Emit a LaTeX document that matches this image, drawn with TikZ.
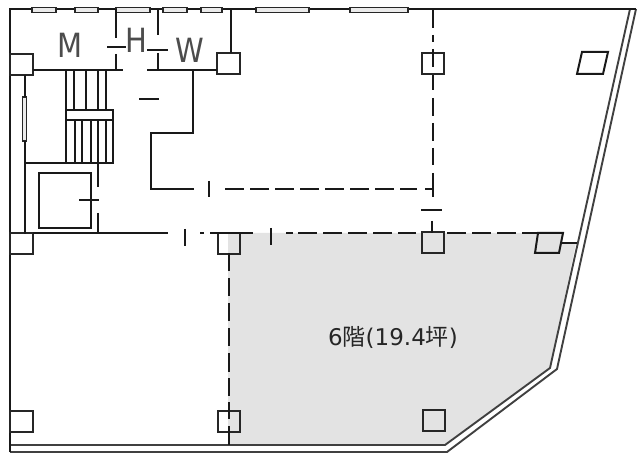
\documentclass[tikz,border=0pt]{standalone}
\usepackage{fontspec}
\setmainfont{DejaVu Sans}
\newfontfamily\cjk{Noto Sans CJK JP}
\begin{document}
\begin{tikzpicture}[
        x=1pt, y=-1pt,
        wall/.style={line width=2pt, draw=black!90},
        shell/.style={line width=1.9pt, draw=black!75},
        pillar/.style={rectangle, draw=black!85, line width=2pt, minimum width=22.5pt, minimum height=21pt, inner sep=0pt},
        partition/.style={wall, dash pattern=on 18.5pt off 6.5pt},
        window/.style={line width=1.8pt, draw=black!85, fill=black!8},
        room/.style={font=\fontsize{29}{29}\selectfont, text=black!70, inner sep=0pt}
    ]
    \useasboundingbox (0,0) rectangle (640,462);

    % Let space
    \fill[black!11] (228,233) -- (563,233) -- (560,243) -- (576,243) -- (550,368) -- (445,444) -- (228,444) -- cycle;

    % Building shell
    \draw[shell] (10,445) -- (445,445) -- (550,368) -- (630,9);
    \draw[shell] (10,452) -- (447,452) -- (557,369) -- (636,9);
    \draw[wall] (10,452) -- (10,9) -- (636,9);

    % Windows
    \foreach \xa/\xb in {32/56, 75/98, 116/150, 163/187, 201/222, 256/309, 350/408}
        \draw[window] (\xa,7.5) rectangle (\xb,12.5);
    \draw[window] (22.5,97) rectangle (26.5,141);

    % Pillars
    \node[pillar] (P1) at (21.5,64.5) {};
    \node[pillar] (P2) at (228.5,64) {};
    \node[pillar] (P3) at (433,64) {};
    \node[pillar] (P4) at (21.5,244) {};
    \node[pillar] (P5) at (229,243.5) {};
    \node[pillar] (P6) at (433,243) {};
    \node[pillar] (P7) at (21.5,421) {};
    \node[pillar] (P8) at (229,421) {};
    \node[pillar] (P9) at (434,420.5) {};
    \draw[wall] (582,52) -- (608,52) -- (603,74) -- (577,74) -- cycle;
    \draw[wall] (538,233) -- (563,233) -- (559,253) -- (535,253) -- cycle;
    \draw[wall] (560,243) -- (577,243);

    % Toilets
    \draw[wall] (33,70) -- (123,70);
    \draw[wall] (147,70) -- (217,70);
    \draw[wall] (116,9) -- (116,38);
    \draw[wall] (116,54) -- (116,70);
    \draw[wall] (107,47.5) -- (126,47.5);
    \draw[wall] (158,9) -- (158,35);
    \draw[wall] (158,53) -- (158,70);
    \draw[wall] (147,50) -- (168,50);
    \draw[wall] (231,9) -- (231,53);
    \node[room] (M) at (70.5,45) {\scalebox{1}[1.15]{M}};
    \node[room] (H) at (136.5,40) {\scalebox{1}[1.15]{H}};
    \node[room] (W) at (190,50) {\scalebox{1}[1.15]{W}};

    % Core
    \draw[wall] (25,75) -- (25,97);
    \draw[wall] (25,141) -- (25,234);
    \draw[wall] (25,163) -- (113.5,163);
    \draw[wall] (139,99) -- (159,99);
    \draw[wall] (192.5,70) -- (192.5,133) -- (151,133) -- (151,189.5) -- (194,189.5);
    \draw[wall] (209,181) -- (209,197);

    % Stairs
    \draw[wall] (66,110) rectangle (113,120);
    \draw[wall] (113,120) -- (113,163);
    \foreach \x in {66,74,86,98,106}
        \draw[wall] (\x,70) -- (\x,110);
    \foreach \x in {66,75,82,91,98,106}
        \draw[wall] (\x,120) -- (\x,163);

    % Lift
    \draw[wall] (39,173) rectangle (91,228);
    \draw[wall] (79,200.5) -- (99,200.5);
    \draw[wall] (98,163) -- (98,187);
    \draw[wall] (98,213) -- (98,234);

    % Partitions
    \draw[partition] (225,189.5) -- (417,189.5);
    \draw[wall] (425,189.5) -- (433,189.5);
    \draw[partition] (433,10) -- (433,42);
    \draw[wall] (433,49) -- (433,67);
    \draw[partition] (433,75) -- (433,90);
    \draw[partition] (433,98) -- (433,165);
    \draw[wall] (433,173) -- (433,197);
    \draw[wall] (421,210) -- (442,210);
    \draw[wall] (432,221) -- (432,233);
    \draw[wall] (33,233.5) -- (168,233.5);
    \draw[wall] (184.5,229) -- (184.5,246);
    \draw[wall] (200,233.5) -- (204,233.5);
    \draw[wall] (210,233) -- (253,233);
    \draw[wall] (270.5,228) -- (270.5,245);
    \draw[wall] (286,233) -- (293,233);
    \draw[partition] (298,233) -- (416,233);
    \draw[partition] (447,233) -- (538,233);
    \draw[partition] (228.5,253) -- (228.5,396);
    \draw[wall] (228.5,402) -- (228.5,419);
    \draw[wall] (228.5,426) -- (228.5,445);

    % Floor label
    \node[font=\fontsize{23}{23}\selectfont, text=black!85, inner sep=0pt] (area) at (393,337) {6{\cjk 階}(19.4{\cjk 坪})};

\end{tikzpicture}
\end{document}
